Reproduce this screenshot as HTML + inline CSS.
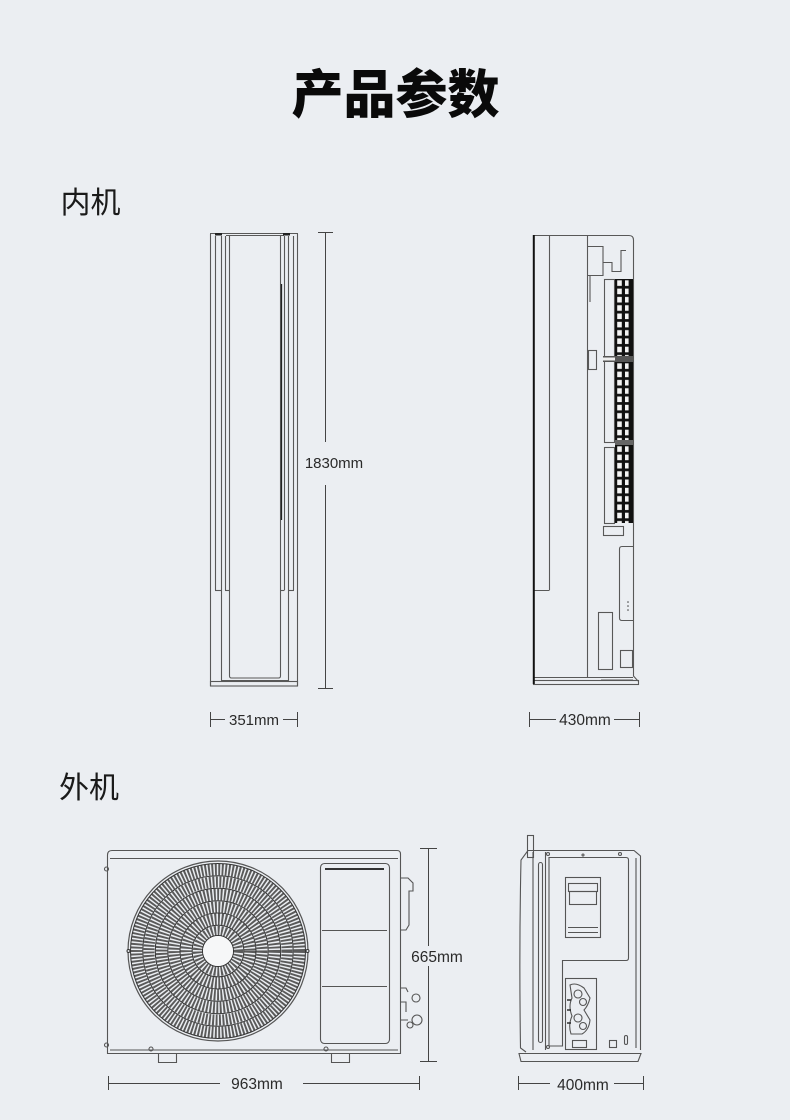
<!DOCTYPE html>
<html><head><meta charset="utf-8">
<style>
html,body{margin:0;padding:0;background:#ebeef2;}
svg{display:block;}
</style></head>
<body>
<svg width="790" height="1120" viewBox="0 0 790 1120" xmlns="http://www.w3.org/2000/svg">
<rect width="790" height="1120" fill="#ebeef2"/>
<defs>
<pattern id="grill" x="615" y="279" width="18" height="8.3" patternUnits="userSpaceOnUse">
<rect width="18" height="8.3" fill="#111"/>
<rect x="2.2" y="1.3" width="4.6" height="5.6" fill="#f4f4f4"/>
<rect x="10" y="1.3" width="3.6" height="5.6" fill="#f4f4f4"/>
</pattern>
</defs>

<!-- Titles -->
<text x="395.5" y="113" text-anchor="middle" font-family="'Liberation Sans','Noto Sans CJK SC',sans-serif" font-size="52" font-weight="900" fill="#0a0a0a">产品参数</text>
<text x="60.5" y="213" font-family="'Liberation Sans','Noto Sans CJK SC',sans-serif" font-size="30" fill="#1a1a1a">内机</text>
<text x="59" y="798" font-family="'Liberation Sans','Noto Sans CJK SC',sans-serif" font-size="30" fill="#1a1a1a">外机</text>

<!-- ============ Indoor front ============ -->
<g stroke="#585858" stroke-width="1.1" fill="none">
<line x1="210.5" y1="234" x2="210.5" y2="686"/>
<line x1="215.5" y1="236" x2="215.5" y2="590"/>
<line x1="221.5" y1="236" x2="221.5" y2="681"/>
<line x1="225.5" y1="236" x2="225.5" y2="590"/>
<path d="M229.5 236 V676 Q229.5 678 231.5 678 H278.5 Q280.5 678 280.5 676 V236"/>
<line x1="284.5" y1="236" x2="284.5" y2="590"/>
<line x1="288.5" y1="236" x2="288.5" y2="681"/>
<line x1="293.5" y1="236" x2="293.5" y2="590"/>
<line x1="297.5" y1="234" x2="297.5" y2="686"/>
<line x1="210" y1="233.5" x2="298" y2="233.5"/>
<line x1="226" y1="235.5" x2="284" y2="235.5"/>
<line x1="215" y1="590.5" x2="221.5" y2="590.5"/>
<line x1="225" y1="590.5" x2="229.5" y2="590.5"/>
<line x1="280.5" y1="590.5" x2="284.5" y2="590.5"/>
<line x1="288" y1="590.5" x2="294" y2="590.5"/>
<line x1="221" y1="680.5" x2="289" y2="680.5"/>
<rect x="210.5" y="681.5" width="87" height="4.5"/>
</g>
<line x1="281.5" y1="284" x2="281.5" y2="520" stroke="#222" stroke-width="1.3"/>
<rect x="215" y="233" width="7" height="2.5" fill="#222"/>
<rect x="283" y="233" width="7" height="2.5" fill="#222"/>

<!-- dimension 1830 -->
<g stroke="#444" stroke-width="1">
<line x1="318" y1="232.5" x2="333" y2="232.5"/>
<line x1="325.5" y1="232" x2="325.5" y2="442"/>
<line x1="325.5" y1="485" x2="325.5" y2="688"/>
<line x1="318" y1="688.5" x2="333" y2="688.5"/>
</g>
<text x="334" y="468" text-anchor="middle" font-family="'Liberation Sans',sans-serif" font-size="15" fill="#2a2a2a">1830mm</text>

<!-- dimension 351 -->
<g stroke="#444" stroke-width="1">
<line x1="210.5" y1="712" x2="210.5" y2="727"/>
<line x1="210" y1="719.5" x2="225" y2="719.5"/>
<line x1="283" y1="719.5" x2="297" y2="719.5"/>
<line x1="297.5" y1="712" x2="297.5" y2="727"/>
</g>
<text x="254" y="725" text-anchor="middle" font-family="'Liberation Sans',sans-serif" font-size="15" fill="#2a2a2a">351mm</text>

<!-- ============ Indoor side ============ -->
<g stroke="#585858" stroke-width="1.1" fill="none">
<path d="M533 235.5 H629 Q633.5 235.5 633.5 240 V676 L638 681"/>
<line x1="549.5" y1="236" x2="549.5" y2="590"/>
<line x1="533" y1="590.5" x2="549.5" y2="590.5"/>
<line x1="587.5" y1="236" x2="587.5" y2="678"/>
<line x1="533" y1="677.5" x2="633" y2="677.5"/>
<rect x="533.5" y="680.5" width="105" height="4"/>
<path d="M588 246.5 H603 V262.5 H612 V271.5 H621 V250.5 H626 M603 246.5 V275.5 H588"/>
<rect x="588.5" y="350.5" width="8" height="19"/>
<path d="M590 276 V302"/>
<rect x="604.5" y="279.5" width="10" height="163" />
<rect x="604.5" y="447.5" width="10" height="76" />
<rect x="603.5" y="526.5" width="20" height="9"/>
<path d="M633 546.5 H622 Q619.5 546.5 619.5 549 V618 Q619.5 620.5 622 620.5 H633"/>
<rect x="598.5" y="612.5" width="14" height="57"/>
<rect x="620.5" y="650.5" width="12" height="17"/>
<line x1="601" y1="680" x2="633" y2="680"/>
</g>
<line x1="533.8" y1="235" x2="533.8" y2="684" stroke="#111" stroke-width="2"/>
<rect x="615" y="279" width="18" height="244" fill="url(#grill)"/>
<rect x="603" y="356" width="30" height="6" fill="#555"/>
<rect x="603" y="357.5" width="12" height="3" fill="#eee"/>
<rect x="615" y="440" width="18" height="5" fill="#666"/>
<circle cx="628" cy="602" r="0.8" fill="#444"/>
<circle cx="628" cy="606" r="0.8" fill="#444"/>
<circle cx="628" cy="610" r="0.8" fill="#444"/>

<!-- dimension 430 -->
<g stroke="#444" stroke-width="1">
<line x1="529.5" y1="712" x2="529.5" y2="727"/>
<line x1="529" y1="719.5" x2="556" y2="719.5"/>
<line x1="614" y1="719.5" x2="639" y2="719.5"/>
<line x1="639.5" y1="712" x2="639.5" y2="727"/>
</g>
<text x="585" y="725" text-anchor="middle" font-family="'Liberation Sans',sans-serif" font-size="15.5" fill="#2a2a2a">430mm</text>

<!-- ============ Outdoor front ============ -->
<g stroke="#555" stroke-width="1.1" fill="none">
<path d="M107.5 855 Q107.5 850.5 112 850.5 H397 Q400.5 850.5 400.5 854 V1053.5 H107.5 Z"/>
<line x1="110" y1="858.5" x2="398" y2="858.5"/>
<circle cx="106.5" cy="869" r="2"/>
<circle cx="106.5" cy="1045" r="2"/>
<rect x="320.5" y="863.5" width="69" height="180" rx="4"/>
<line x1="322" y1="930.5" x2="387" y2="930.5"/>
<line x1="322" y1="986.5" x2="387" y2="986.5"/>
<path d="M401 878 H408 L413 883 V891 H409 V925 L406 930 H401"/>
<path d="M401 988 H406 L408 992 M401 1002 H406 V1012 M401 1020 H408"/>
<circle cx="416" cy="998" r="4"/>
<circle cx="417" cy="1020" r="5"/>
<circle cx="410" cy="1025" r="3"/>
<path d="M158.5 1053.5 V1062.5 H176.5 V1053.5"/>
<path d="M331.5 1053.5 V1062.5 H349.5 V1053.5"/>
<circle cx="151" cy="1049" r="2"/>
<circle cx="326" cy="1049" r="2"/>
<line x1="110" y1="1050" x2="398" y2="1050"/>
</g>
<line x1="325" y1="869" x2="384" y2="869" stroke="#333" stroke-width="2"/>

<!-- fan -->
<g fill="none">
<g stroke="#5a5a5a" stroke-dasharray="1.9 1.5">
<circle cx="218" cy="951" r="20.3" stroke-width="9.5"/>
<circle cx="218" cy="951" r="31.8" stroke-width="11.5"/>
<circle cx="218" cy="951" r="44" stroke-width="11"/>
<circle cx="218" cy="951" r="56.5" stroke-width="11.5"/>
<circle cx="218" cy="951" r="69" stroke-width="11"/>
<circle cx="218" cy="951" r="81.5" stroke-width="11.5"/>
</g>
<g stroke="#333" stroke-width="1">
<circle cx="218" cy="951" r="15.5"/>
<circle cx="218" cy="951" r="25.8"/>
<circle cx="218" cy="951" r="38"/>
<circle cx="218" cy="951" r="50.2"/>
<circle cx="218" cy="951" r="62.7"/>
<circle cx="218" cy="951" r="75.2"/>
<circle cx="218" cy="951" r="87.5"/>
</g>
<circle cx="218" cy="951" r="90" stroke="#555" stroke-width="1.2"/>
<circle cx="218" cy="951" r="15" fill="#f6f7f8" stroke="none"/>
<circle cx="128.5" cy="951" r="1.5" stroke="#333" fill="#ebeef2"/>
<circle cx="307.5" cy="951" r="1.5" stroke="#333" fill="#ebeef2"/>
</g>

<!-- dimension 665 -->
<g stroke="#444" stroke-width="1">
<line x1="420" y1="848.5" x2="437" y2="848.5"/>
<line x1="428.5" y1="848" x2="428.5" y2="946"/>
<line x1="428.5" y1="966" x2="428.5" y2="1061"/>
<line x1="420" y1="1061.5" x2="437" y2="1061.5"/>
</g>
<text x="437" y="962" text-anchor="middle" font-family="'Liberation Sans',sans-serif" font-size="15.5" fill="#2a2a2a">665mm</text>

<!-- dimension 963 -->
<g stroke="#444" stroke-width="1">
<line x1="108.5" y1="1076" x2="108.5" y2="1090"/>
<line x1="108" y1="1083.5" x2="220" y2="1083.5"/>
<line x1="303" y1="1083.5" x2="419" y2="1083.5"/>
<line x1="419.5" y1="1076" x2="419.5" y2="1090"/>
</g>
<text x="257" y="1089" text-anchor="middle" font-family="'Liberation Sans',sans-serif" font-size="15.5" fill="#2a2a2a">963mm</text>

<!-- ============ Outdoor side ============ -->
<g stroke="#555" stroke-width="1.1" fill="none">
<rect x="527.5" y="835.5" width="6" height="22"/>
<path d="M528 850.5 H634 L640.5 856 V1050 M528 850.5 L521 860 Q519 950 520.5 1048 L526 1052"/>
<path d="M519 1053.5 H641 L638 1061.5 H521 Z"/>
<line x1="545.5" y1="852" x2="545.5" y2="1050"/>
<rect x="538.5" y="862.5" width="4" height="180" rx="2"/>
<line x1="533" y1="852" x2="533" y2="1050"/>
<path d="M549 857.5 H626 Q628.5 857.5 628.5 860 V958 Q628.5 960.5 626 960.5 H562.5 V1046 H549 Z"/>
<rect x="565.5" y="877.5" width="35" height="60"/>
<rect x="568.5" y="883.5" width="29" height="8"/>
<rect x="569.5" y="891.5" width="27" height="13"/>
<line x1="568" y1="927.5" x2="598" y2="927.5"/>
<line x1="568" y1="932.5" x2="598" y2="932.5"/>
<rect x="565.5" y="978.5" width="31" height="71"/>
<path d="M570 985 Q576 982 584 988 L590 998 Q588 1006 584 1010 L590 1020 Q589 1030 582 1034 H571 Q568 1025 572 1016 Q568 1006 572 998 Z"/>
<circle cx="578" cy="994" r="4"/>
<circle cx="583" cy="1002" r="3.5"/>
<circle cx="578" cy="1018" r="4"/>
<circle cx="583" cy="1026" r="3.5"/>
<rect x="572.5" y="1040.5" width="14" height="7"/>
<rect x="609.5" y="1040.5" width="7" height="7"/>
<rect x="624.5" y="1035.5" width="3" height="9" rx="1.5"/>
<circle cx="548" cy="854" r="1.5"/>
<circle cx="583" cy="855" r="1"/>
<circle cx="620" cy="854" r="1.5"/>
<circle cx="548" cy="1047" r="1.5"/>
<line x1="636" y1="858" x2="636" y2="1048"/>
</g>
<g stroke="#222" stroke-width="1.4">
<line x1="567" y1="1000" x2="571" y2="1000"/>
<line x1="567" y1="1010" x2="571" y2="1010"/>
<line x1="567" y1="1023" x2="571" y2="1023"/>
</g>

<!-- dimension 400 -->
<g stroke="#444" stroke-width="1">
<line x1="518.5" y1="1076" x2="518.5" y2="1090"/>
<line x1="518" y1="1083.5" x2="550" y2="1083.5"/>
<line x1="614" y1="1083.5" x2="643" y2="1083.5"/>
<line x1="643.5" y1="1076" x2="643.5" y2="1090"/>
</g>
<text x="583" y="1090" text-anchor="middle" font-family="'Liberation Sans',sans-serif" font-size="15.5" fill="#2a2a2a">400mm</text>
</svg>
</body></html>
